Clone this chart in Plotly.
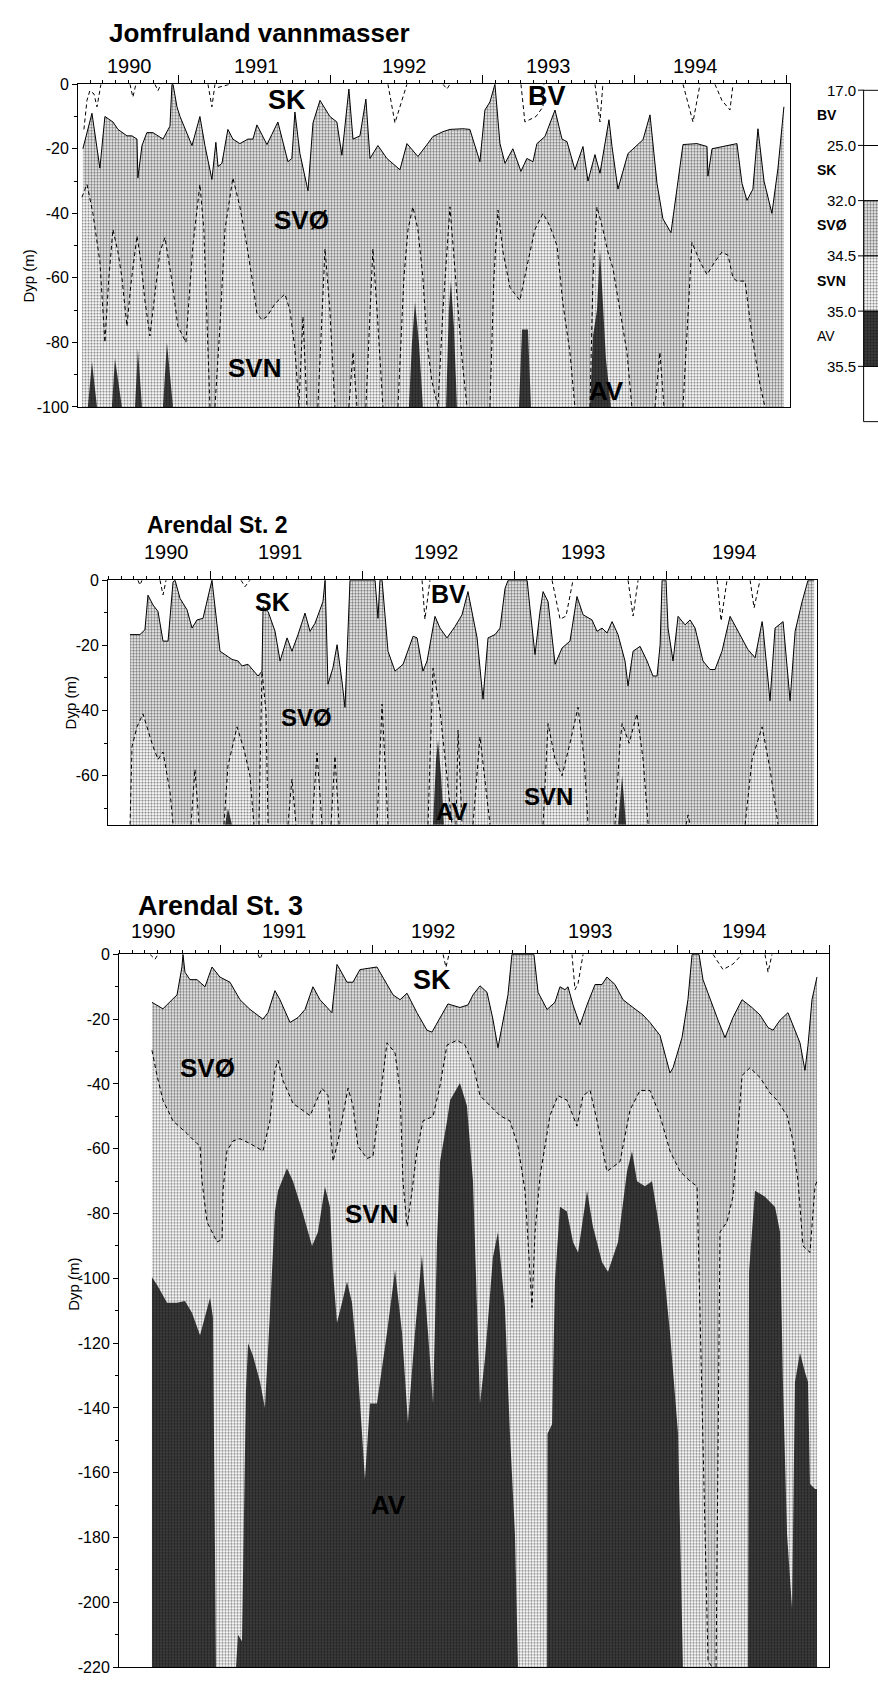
import plotly.graph_objects as go

FONT = "Arial, 'Liberation Sans', Helvetica, sans-serif"
W, H = 878, 1688

# ---------------- Jomfruland (depth of isohalines, m) ----------------
jf_sk = [(1989.868,-20),(1989.928,-9),(1989.980,-26),(1990.013,-10),(1990.066,-11.7),(1990.099,-14),
 (1990.158,-16),(1990.191,-16),(1990.224,-17),(1990.230,-29),(1990.257,-19),(1990.289,-15),(1990.329,-15),
 (1990.395,-17),(1990.441,-13),(1990.454,0),(1990.461,0),(1990.487,-7),(1990.507,-10),(1990.553,-15),
 (1990.586,-19),(1990.638,-10),(1990.671,-19),(1990.717,-29.5),(1990.743,-18),(1990.757,-25.5),(1990.783,-24.5),
 (1990.822,-14),(1990.855,-17),(1990.901,-18.4),(1990.954,-17),(1990.987,-17),(1991.013,-12.6),(1991.079,-18.7),
 (1991.151,-11.7),(1991.217,-24),(1991.243,-23),(1991.263,-8.6),(1991.296,-21.5),(1991.349,-33),(1991.382,-12),
 (1991.428,-5),(1991.493,-10),(1991.539,-11.7),(1991.572,-22),(1991.618,-1.5),(1991.645,-17),(1991.691,-16),
 (1991.730,-4.6),(1991.757,-23),(1991.809,-19),(1991.868,-23),(1991.908,-24.5),(1991.954,-26.5),(1992.000,-18.4),
 (1992.072,-22.4),(1992.132,-18.7),(1992.171,-16.2),(1992.237,-14.7),(1992.283,-14),(1992.368,-13.8),(1992.414,-14),
 (1992.480,-24),(1992.513,-8),(1992.546,-5.5),(1992.579,0),(1992.612,-18.4),(1992.645,-24.5),(1992.697,-20),
 (1992.750,-27),(1992.789,-23),(1992.829,-24),(1992.855,-18.4),(1992.908,-16.2),(1992.974,-8),(1993.020,-17),
 (1993.053,-17.8),(1993.105,-26.5),(1993.158,-19.3),(1993.191,-30),(1993.237,-21.8),(1993.270,-27.6),(1993.329,-11),
 (1993.349,-19.3),(1993.388,-32.5),(1993.454,-21.5),(1993.553,-17.2),(1993.599,-9.5),(1993.645,-30.7),(1993.684,-41.7),
 (1993.737,-46),(1993.816,-18.7),(1993.908,-18.4),(1993.974,-19.3),(1993.980,-28.5),(1994.007,-20),(1994.079,-19.3),
 (1994.171,-18.4),(1994.204,-30.7),(1994.237,-36),(1994.276,-32.5),(1994.309,-13.8),(1994.349,-30),(1994.401,-40),
 (1994.441,-26),(1994.480,-7)]
jf_svn = [(1989.862,-35),(1989.895,-31),(1989.934,-40),(1989.980,-55),(1990.013,-80),(1990.039,-60),(1990.066,-45),
 (1990.099,-52),(1990.125,-60),(1990.158,-75),(1990.184,-62),(1990.224,-47),(1990.250,-55),(1990.276,-67),(1990.309,-78),
 (1990.342,-65),(1990.375,-52),(1990.408,-47.5),(1990.434,-55),(1990.454,-61),(1990.493,-75),(1990.546,-80),(1990.592,-50),
 (1990.638,-31),(1990.664,-45),(1990.704,-100),(1990.737,-100),(1990.770,-75),(1990.803,-45),(1990.855,-29),(1990.901,-38),
 (1990.947,-50),(1990.987,-62),(1991.013,-71),(1991.046,-73),(1991.079,-72),(1991.132,-68),(1991.197,-65),(1991.230,-70),
 (1991.263,-82),(1991.289,-100),(1991.316,-72),(1991.342,-100),(1991.414,-100),(1991.441,-70),(1991.461,-51),(1991.493,-70),
 (1991.526,-100),(1991.618,-100),(1991.645,-83),(1991.671,-100),(1991.730,-100),(1991.757,-70),(1991.776,-51),(1991.803,-70),
 (1991.842,-100),(1991.941,-100),(1991.980,-60),(1992.007,-45),(1992.039,-38),(1992.072,-45),(1992.105,-60),(1992.132,-80),
 (1992.164,-92),(1992.204,-100),(1992.237,-70),(1992.283,-38),(1992.322,-60),(1992.362,-85),(1992.395,-100),(1992.546,-100),
 (1992.572,-60),(1992.599,-39),(1992.632,-52),(1992.678,-63),(1992.743,-67),(1992.796,-55),(1992.842,-45),(1992.895,-40),
 (1992.941,-44),(1992.987,-50),(1993.026,-68),(1993.072,-83),(1993.105,-100),(1993.204,-100),(1993.224,-60),(1993.250,-38),
 (1993.289,-45),(1993.322,-52),(1993.355,-57),(1993.401,-70),(1993.447,-83),(1993.480,-100),(1993.632,-100),(1993.664,-83),
 (1993.691,-100),(1993.816,-100),(1993.849,-70),(1993.875,-49),(1993.928,-55),(1993.974,-59),(1994.026,-55),(1994.072,-52),
 (1994.112,-53),(1994.145,-60),(1994.171,-61),(1994.224,-61),(1994.270,-78),(1994.322,-93),(1994.355,-100),(1994.480,-100)]
jf_av = [(1989.849,-100),(1989.901,-100),(1989.928,-86),(1989.961,-100),(1990.059,-100),(1990.079,-85),(1990.125,-100),
 (1990.211,-100),(1990.230,-82),(1990.257,-100),(1990.395,-100),(1990.421,-80),(1990.461,-100),(1992.013,-100),
 (1992.033,-80),(1992.053,-67.5),(1992.079,-80),(1992.105,-100),(1992.257,-100),(1992.276,-70),(1992.289,-61),
 (1992.309,-75),(1992.329,-100),(1992.737,-100),(1992.757,-76),(1992.796,-76),(1992.816,-100),(1993.204,-100),
 (1993.224,-78),(1993.250,-70),(1993.270,-51),(1993.283,-62),(1993.309,-85),(1993.342,-100),(1994.480,-100)]
jf_bv = [[(1989.875,-14),(1989.895,-5),(1989.914,-2),(1989.941,-3),(1989.961,-7),(1989.974,-4),(1989.987,0)],
 [(1990.178,0),(1990.197,-4),(1990.217,0)],
 [(1990.342,0),(1990.362,-2),(1990.382,0)],
 [(1990.691,0),(1990.717,-7),(1990.737,0)],
 [(1990.757,-1),(1990.836,0)],
 [(1991.875,0),(1991.921,-12),(1992.000,0)],
 [(1992.237,0),(1992.263,-1.5),(1992.283,0)],
 [(1992.750,0),(1992.776,-11.7),(1992.849,-10),(1992.895,-7),(1992.901,0)],
 [(1993.237,0),(1993.270,-11.7),(1993.289,0)],
 [(1993.816,0),(1993.882,-11.7),(1993.928,0)],
 [(1994.026,0),(1994.072,-5),(1994.125,-8),(1994.145,0)]]

# ---------------- Arendal St. 2 ----------------
ar2_sk = [(1989.974,-16.7),(1990.039,-16.7),(1990.072,-15.2),(1990.092,-4.6),(1990.125,-7.6),(1990.158,-9.6),
 (1990.191,-18.7),(1990.224,-18.7),(1990.257,-0.5),(1990.270,0),(1990.303,-5.6),(1990.349,-9.1),(1990.382,-14.7),
 (1990.414,-12.2),(1990.454,-11.7),(1990.500,-2),(1990.513,0),(1990.566,-21.8),(1990.645,-24.3),(1990.684,-24.8),
 (1990.711,-26.3),(1990.750,-25.8),(1990.816,-29.4),(1990.842,-27.9),(1990.849,-8.1),(1990.882,-9.6),(1990.928,-15.7),
 (1990.961,-24.8),(1991.007,-17.7),(1991.039,-21.8),(1991.079,-16.7),(1991.125,-10.1),(1991.158,-15.7),(1991.191,-13.2),
 (1991.243,-6.6),(1991.257,0),(1991.276,-31.9),(1991.309,-26.8),(1991.336,-19.8),(1991.368,-30.9),(1991.388,-39),
 (1991.421,0),(1991.586,0),(1991.605,-11.7),(1991.618,0),(1991.632,0),(1991.671,-21.8),(1991.717,-27.9),(1991.770,-25.8),
 (1991.836,-17.2),(1991.862,-17.7),(1991.901,-27.9),(1991.928,-24.8),(1991.980,-11.1),(1992.013,-14.7),(1992.059,-17.7),
 (1992.112,-14.2),(1992.158,-10.6),(1992.178,-6.6),(1992.197,-3.5),(1992.257,-17.7),(1992.296,-36.5),(1992.329,-17.7),
 (1992.375,-16.7),(1992.408,-14.7),(1992.441,-2.5),(1992.461,0),(1992.586,0),(1992.605,-8.6),(1992.638,-22.8),
 (1992.671,-9.6),(1992.691,-3.5),(1992.724,-6.6),(1992.770,-25.8),(1992.816,-20.8),(1992.868,-18.7),(1992.914,-5),
 (1992.954,-10.6),(1993.013,-12.2),(1993.046,-15.7),(1993.079,-14.7),(1993.112,-16.2),(1993.145,-12.7),(1993.184,-16.7),
 (1993.230,-24.8),(1993.250,-32.4),(1993.283,-21.8),(1993.329,-20.3),(1993.375,-24.8),(1993.414,-29.4),(1993.441,-29.4),
 (1993.461,-19.8),(1993.474,0),(1993.500,0),(1993.513,-14.7),(1993.546,-24.8),(1993.579,-11.1),(1993.625,-13.7),
 (1993.658,-12.2),(1993.691,-14.7),(1993.743,-24.8),(1993.789,-27.4),(1993.822,-27.4),(1993.868,-21.8),(1993.921,-11.1),
 (1993.987,-16.7),(1994.039,-21.3),(1994.086,-23.8),(1994.132,-12.7),(1994.138,-14.7),(1994.184,-37),(1994.217,-14.7),
 (1994.270,-12.7),(1994.316,-37),(1994.349,-15.7),(1994.395,-6.6),(1994.434,0),(1994.474,0)]
ar2_svn = [(1989.974,-75),(1989.987,-51),(1990.020,-45),(1990.059,-41),(1990.092,-46),(1990.125,-51),(1990.158,-55),
 (1990.191,-52.7),(1990.237,-65),(1990.257,-75),(1990.375,-75),(1990.401,-58),(1990.428,-75),(1990.592,-75),
 (1990.618,-57),(1990.678,-45),(1990.724,-52),(1990.763,-60),(1990.789,-75),(1990.822,-75),(1990.842,-28),
 (1990.868,-40),(1990.882,-75),(1991.013,-75),(1991.039,-61),(1991.066,-75),(1991.171,-75),(1991.204,-53),
 (1991.237,-75),(1991.296,-75),(1991.322,-54),(1991.349,-75),(1991.599,-75),(1991.632,-38),(1991.671,-75),
 (1991.934,-75),(1991.967,-27),(1992.013,-40),(1992.059,-60),(1992.092,-75),(1992.118,-75),(1992.132,-46),
 (1992.158,-75),(1992.230,-75),(1992.276,-48),(1992.342,-75),(1992.691,-75),(1992.724,-44),(1992.770,-55),
 (1992.816,-60),(1992.868,-50),(1992.921,-39),(1992.961,-55),(1992.987,-75),(1993.164,-75),(1993.197,-50),
 (1993.211,-44),(1993.257,-50),(1993.309,-41),(1993.349,-55),(1993.382,-75),(1993.632,-75),(1993.645,-72),
 (1993.658,-75),(1994.020,-75),(1994.066,-55),(1994.132,-45),(1994.184,-58),(1994.237,-75),(1994.474,-75)]
ar2_av = [(1989.974,-75),(1990.599,-75),(1990.618,-70),(1990.645,-75),(1991.967,-75),(1991.987,-55),(1992.000,-49),
 (1992.020,-60),(1992.039,-75),(1993.184,-75),(1993.211,-60),(1993.237,-75),(1994.474,-75)]
ar2_bv = [[(1990.026,0),(1990.039,-1.5),(1990.053,0)],
 [(1990.171,0),(1990.191,-4.5),(1990.211,0)],
 [(1990.704,0),(1990.730,-2),(1990.763,0)],
 [(1991.895,0),(1991.914,-12),(1991.947,0)],
 [(1992.750,0),(1992.803,-12),(1992.842,-11),(1992.888,0)],
 [(1993.250,0),(1993.283,-11),(1993.316,0)],
 [(1993.836,0),(1993.862,-12.5),(1993.901,0)],
 [(1994.053,0),(1994.079,-8.5),(1994.118,0)]]

# ---------------- Arendal St. 3 ----------------
ar3_sk = [(1990.046,-14.8),(1990.079,-15.6),(1990.118,-16.8),(1990.178,-14),(1990.211,-12.5),(1990.243,-3.9),
 (1990.250,0),(1990.263,-5.5),(1990.296,-7.8),(1990.342,-7.8),(1990.395,-10),(1990.441,-3.9),(1990.493,-7),
 (1990.559,-8.6),(1990.625,-14),(1990.691,-17),(1990.776,-20),(1990.809,-18),(1990.855,-11.2),(1990.888,-14),
 (1990.954,-21),(1991.007,-19.5),(1991.053,-17),(1991.105,-10),(1991.151,-14),(1991.230,-18),(1991.263,-3.1),
 (1991.283,-4.7),(1991.329,-8.6),(1991.368,-8.6),(1991.414,-4.7),(1991.526,-3.9),(1991.566,-7),(1991.632,-12.5),
 (1991.678,-14),(1991.724,-12),(1991.789,-18),(1991.855,-23.4),(1991.888,-24),(1991.941,-19.5),(1991.993,-15.3),
 (1992.072,-16.4),(1992.125,-15.6),(1992.158,-12.5),(1992.204,-9.7),(1992.250,-11.7),(1992.289,-20),(1992.322,-28.8),
 (1992.355,-20),(1992.388,-12.5),(1992.414,0),(1992.559,0),(1992.586,-11.7),(1992.645,-17),(1992.697,-14.8),
 (1992.730,-10),(1992.763,-10.9),(1992.783,-10),(1992.816,-15.6),(1992.862,-21.8),(1992.908,-15.6),(1992.961,-9.3),
 (1993.007,-9.3),(1993.039,-7),(1993.092,-9.3),(1993.145,-14),(1993.211,-16.4),(1993.276,-18.7),(1993.322,-21),
 (1993.388,-25),(1993.454,-36.6),(1993.474,-35),(1993.533,-25.7),(1993.572,-14),(1993.599,0),(1993.645,0),
 (1993.671,-7.8),(1993.730,-15.6),(1993.770,-20.3),(1993.816,-25.7),(1993.868,-19.5),(1993.928,-14),(1993.993,-16.4),
 (1994.046,-18.7),(1994.099,-22.6),(1994.132,-23.4),(1994.178,-20.3),(1994.230,-18),(1994.263,-21.8),(1994.309,-27.3),
 (1994.342,-35.8),(1994.362,-28),(1994.388,-14),(1994.421,-7)]
ar3_svn = [(1990.046,-29.6),(1990.079,-37.4),(1990.118,-45),(1990.184,-51.4),(1990.276,-55.3),(1990.342,-58.4),
 (1990.362,-59),(1990.375,-70),(1990.408,-82.6),(1990.474,-88.8),(1990.507,-88),(1990.513,-73),(1990.539,-60.7),
 (1990.579,-57.6),(1990.625,-56.9),(1990.691,-58.4),(1990.776,-60.7),(1990.822,-51.4),(1990.855,-35.8),(1990.875,-32.7),
 (1990.908,-39),(1990.974,-46),(1991.086,-49.8),(1991.164,-41.3),(1991.204,-43.6),(1991.237,-63.9),(1991.270,-57.6),
 (1991.303,-49.8),(1991.336,-41.3),(1991.368,-46.7),(1991.401,-59.2),(1991.461,-63),(1991.500,-62.3),(1991.546,-45),
 (1991.592,-27.3),(1991.645,-30.4),(1991.678,-42),(1991.697,-70),(1991.724,-84),(1991.757,-73),(1991.789,-60.7),
 (1991.829,-51.4),(1991.895,-50),(1991.941,-40.5),(1991.987,-28),(1992.053,-26.5),(1992.105,-28),(1992.158,-34),
 (1992.204,-43.6),(1992.270,-46.7),(1992.336,-49.8),(1992.401,-51.4),(1992.454,-59.2),(1992.500,-73),(1992.546,-109),
 (1992.566,-85.7),(1992.599,-68.5),(1992.664,-49.8),(1992.717,-43.6),(1992.776,-45),(1992.842,-53),(1992.882,-43.6),
 (1992.928,-42),(1992.974,-51.4),(1993.039,-67),(1993.125,-64),(1993.191,-48),(1993.257,-42),(1993.322,-42),
 (1993.388,-49.8),(1993.454,-60.7),(1993.520,-67),(1993.586,-70),(1993.632,-71.6),(1993.671,-148),(1993.704,-218),
 (1993.730,-220),(1993.757,-220),(1993.770,-150),(1993.783,-85.7),(1993.829,-82.6),(1993.868,-74.8),(1993.901,-54.5),
 (1993.928,-37.4),(1993.980,-35),(1994.046,-38),(1994.112,-42.8),(1994.158,-45),(1994.224,-49.8),(1994.263,-57.6),
 (1994.296,-70),(1994.329,-90),(1994.375,-92),(1994.408,-71.6),(1994.421,-70)]
ar3_av = [(1990.046,-99.7),(1990.079,-102),(1990.145,-107.5),(1990.211,-107.5),(1990.263,-107),(1990.309,-110.6),
 (1990.362,-117.6),(1990.395,-112),(1990.428,-106),(1990.447,-112),(1990.467,-220),(1990.599,-220),(1990.612,-210),
 (1990.638,-212),(1990.651,-170),(1990.664,-135),(1990.678,-120),(1990.711,-124),(1990.757,-132),(1990.789,-140),
 (1990.822,-110.6),(1990.855,-79.4),(1990.875,-73),(1990.934,-66),(1990.974,-70),(1991.033,-79),(1991.099,-90),
 (1991.138,-85.7),(1991.184,-71.7),(1991.217,-78),(1991.237,-98),(1991.263,-113.7),(1991.296,-107.5),(1991.329,-101),
 (1991.362,-107.5),(1991.395,-124.6),(1991.428,-148),(1991.447,-162),(1991.480,-138.6),(1991.526,-138.6),
 (1991.592,-116.8),(1991.645,-97.4),(1991.691,-116.8),(1991.730,-144.6),(1991.776,-116.8),(1991.822,-92.7),
 (1991.862,-116.8),(1991.895,-138.6),(1991.921,-88.8),(1991.941,-63.9),(1991.987,-51.4),(1992.007,-45),
 (1992.072,-39.7),(1992.118,-46.7),(1992.158,-70),(1992.204,-138.6),(1992.237,-124.6),(1992.289,-93.5),
 (1992.322,-85.7),(1992.368,-109),(1992.401,-148),(1992.434,-179),(1992.454,-220),(1992.645,-220),(1992.648,-148),
 (1992.678,-145),(1992.697,-101),(1992.730,-77.9),(1992.776,-79.4),(1992.816,-88.8),(1992.849,-92),(1992.908,-73),
 (1992.947,-84),(1993.007,-95),(1993.046,-98),(1993.112,-88.8),(1993.171,-67),(1993.204,-60.7),(1993.237,-70),
 (1993.289,-71.6),(1993.336,-70),(1993.388,-85.7),(1993.454,-116.8),(1993.507,-148),(1993.539,-220),(1993.967,-220),
 (1993.974,-98),(1994.013,-73),(1994.079,-74.8),(1994.145,-78),(1994.178,-85.7),(1994.197,-132),(1994.224,-179),
 (1994.257,-202),(1994.276,-132),(1994.309,-123),(1994.342,-129),(1994.362,-132),(1994.375,-163.5),(1994.408,-165),
 (1994.421,-165)]
ar3_bv = [[(1990.033,0),(1990.066,-1.5),(1990.086,0)],
 [(1990.743,0),(1990.757,-1.5),(1990.770,0)],
 [(1991.961,0),(1991.980,-4),(1992.000,0)],
 [(1992.809,0),(1992.829,-10.9),(1992.849,-9),(1992.882,0)],
 [(1993.737,0),(1993.803,-4.7),(1993.868,-3),(1993.928,0)],
 [(1994.079,0),(1994.099,-5.5),(1994.125,0)]]

year_labels = ["1990", "1991", "1992", "1993", "1994"]
jf_year_pos = [1990.178, 1991.007, 1991.987, 1992.928, 1993.895]
ar2_year_pos = [1990.211, 1990.961, 1991.987, 1992.954, 1993.947]
ar3_year_pos = [1990.053, 1990.921, 1991.900, 1992.928, 1993.947]
mid_year_ticks = [1990.5, 1991.5, 1992.5, 1993.5, 1994.5]

legend_bounds = ["17.0", "25.0", "32.0", "34.5", "35.0", "35.5"]
legend_names = ["BV", "SK", "SVØ", "SVN", "AV"]

# ---------------- styles ----------------
PAT_SVO = dict(shape=".", size=3, solidity=0.5, fgcolor="#000000", bgcolor="#ffffff")
PAT_SVN = dict(shape=".", size=3, solidity=0.42, fgcolor="#000000", bgcolor="#ffffff")
PAT_AV = dict(shape=".", size=3, solidity=0.5, fgcolor="#000000", bgcolor="#444444")

fig = go.Figure()


def px_x(p):
    return p / W


def px_y(p):
    return 1 - p / H


def add_poly(pts, bottom, pat, xa, ya):
    t = [p[0] for p in pts]
    d = [p[1] for p in pts]
    fig.add_trace(go.Scatter(x=t + [t[-1], t[0]], y=d + [bottom, bottom], mode="lines", fill="toself",
                             line=dict(width=0, color="rgba(0,0,0,0)"), fillcolor=pat["bgcolor"],
                             fillpattern=pat, xaxis=xa, yaxis=ya, hoverinfo="skip"))


def add_dashed(pts, bottom, xa, ya):
    xs, ys = [], []
    for i, (t, d) in enumerate(pts):
        if i > 0 and d <= bottom and pts[i - 1][1] <= bottom:
            xs.append(None)
            ys.append(None)
        xs.append(t)
        ys.append(d)
    fig.add_trace(go.Scatter(x=xs, y=ys, mode="lines", line=dict(color="black", width=1, dash="4px,3px"),
                             xaxis=xa, yaxis=ya, hoverinfo="skip", connectgaps=False))


def add_panel(idx, sk, svn, av, bv, bottom, xrng, xdom, ydom, ytickvals, years_pos, year_ypx,
              title, title_px, title_size, labels, dyp_px):
    xa = "x" if idx == 1 else f"x{idx}"
    ya = "y" if idx == 1 else f"y{idx}"
    add_poly(sk, bottom, PAT_SVO, xa, ya)
    add_poly(svn, bottom, PAT_SVN, xa, ya)
    add_poly(av, bottom, PAT_AV, xa, ya)
    add_dashed(svn, bottom, xa, ya)
    fig.add_trace(go.Scatter(x=[p[0] for p in sk], y=[p[1] for p in sk], mode="lines",
                             line=dict(color="black", width=1), xaxis=xa, yaxis=ya, hoverinfo="skip"))
    for seg in bv:
        fig.add_trace(go.Scatter(x=[p[0] for p in seg], y=[p[1] for p in seg], mode="lines",
                                 line=dict(color="black", width=1, dash="4px,3px"),
                                 xaxis=xa, yaxis=ya, hoverinfo="skip"))
    sfx = "" if idx == 1 else str(idx)
    fig.layout["xaxis" + sfx] = dict(
        domain=xdom, range=xrng, side="top", anchor=ya, showline=True, linecolor="black", linewidth=1,
        mirror=True, ticks="outside", tickvals=mid_year_ticks, ticklen=8, tickcolor="black",
        showticklabels=False, showgrid=False, zeroline=False,
        minor=dict(tickmode="linear", tick0=1990.0, dtick=1 / 12, ticks="outside", ticklen=3,
                   tickcolor="black", showgrid=False))
    fig.layout["yaxis" + sfx] = dict(
        domain=ydom, range=[bottom, 0], anchor=xa, showline=True, linecolor="black", linewidth=1,
        mirror=True, ticks="outside", ticklen=5, tickcolor="black", tickvals=ytickvals,
        ticktext=[str(v) for v in ytickvals], tickfont=dict(family=FONT, size=16, color="black"),
        showgrid=False, zeroline=False,
        minor=dict(tickmode="linear", tick0=0, dtick=10, ticks="outside", ticklen=3,
                   tickcolor="black", showgrid=False))
    for lab, pos in zip(year_labels, years_pos):
        fig.add_annotation(x=pos, y=px_y(year_ypx), xref=xa, yref="paper", text=lab, showarrow=False,
                           font=dict(family=FONT, size=20, color="black"), xanchor="center", yanchor="middle")
    fig.add_annotation(x=px_x(title_px[0]), y=px_y(title_px[1]), xref="paper", yref="paper",
                       text="<b>" + title + "</b>", showarrow=False, xanchor="left", yanchor="middle",
                       font=dict(family=FONT, size=title_size, color="black"))
    for txt, t, d, sz in labels:
        fig.add_annotation(x=t, y=d, xref=xa, yref=ya, text="<b>" + txt + "</b>", showarrow=False,
                           font=dict(family=FONT, size=sz, color="black"))
    fig.add_annotation(x=px_x(dyp_px[0]), y=px_y(dyp_px[1]), xref="paper", yref="paper", text="Dyp (m)",
                       showarrow=False, textangle=-90, font=dict(family=FONT, size=15, color="black"))


add_panel(1, jf_sk, jf_svn, jf_av, jf_bv, -100, [1989.836, 1994.520],
          [78 / W, 790 / W], [px_y(403), px_y(77)], [0, -20, -40, -60, -80, -100],
          jf_year_pos, 59, "Jomfruland vannmasser", (107, 25), 26,
          [("SK", 1991.211, -5, 27), ("BV", 1992.921, -3.5, 27), ("SVØ", 1991.309, -42, 26),
           ("SVN", 1991.0, -88, 26), ("AV", 1993.316, -95, 26)], (18, 242))
add_panel(2, ar2_sk, ar2_svn, ar2_av, ar2_bv, -75, [1989.829, 1994.493],
          [108 / W, 817 / W], [px_y(825), px_y(578)], [0, -20, -40, -60],
          ar2_year_pos, 550, "Arendal St. 2", (145, 522), 23,
          [("SK", 1990.908, -6.7, 25), ("BV", 1992.066, -4.3, 25), ("SVØ", 1991.138, -42, 24),
           ("SVN", 1992.724, -66.5, 24), ("AV", 1992.092, -71, 24)], (60, 702))
add_panel(3, ar3_sk, ar3_svn, ar3_av, ar3_bv, -220, [1989.829, 1994.500],
          [119 / W, 829 / W], [px_y(1676), px_y(956)], list(range(0, -221, -20)),
          ar3_year_pos, 932, "Arendal St. 3", (136, 907), 27,
          [("SK", 1991.888, -7.8, 27), ("SVØ", 1990.414, -35, 26), ("SVN", 1991.493, -80, 26),
           ("AV", 1991.599, -170, 26)], (63, 1318))

# ---------------- legend (salinity key) ----------------
leg_styles = [None, None, PAT_SVO, PAT_SVN, PAT_AV, None]
for i, pat in enumerate(leg_styles):
    kw = dict(fillcolor="white") if pat is None else dict(fillcolor=pat["bgcolor"], fillpattern=pat)
    fig.add_trace(go.Scatter(x=[0, 1, 1, 0, 0], y=[i, i, i + 1, i + 1, i], mode="lines", fill="toself",
                             line=dict(color="black", width=1), xaxis="x4", yaxis="y4", hoverinfo="skip",
                             **kw))
fig.layout["xaxis4"] = dict(domain=[863 / W, 1.0], range=[-0.03, 0.7], visible=False, anchor="y4")
fig.layout["yaxis4"] = dict(domain=[px_y(419), px_y(82)], range=[6.02, -0.02], visible=False, anchor="x4")
leg_top, leg_step = 83, 55.8
for i, lab in enumerate(legend_bounds):
    yp = leg_top + i * leg_step
    fig.add_annotation(x=px_x(858), y=px_y(yp), xref="paper", yref="paper", text=lab, showarrow=False,
                       xanchor="right", yanchor="middle", font=dict(family=FONT, size=15, color="black"))
    fig.add_shape(type="line", x0=px_x(858), x1=px_x(864), y0=px_y(yp), y1=px_y(yp), xref="paper",
                  yref="paper", line=dict(color="black", width=1))
for i, lab in enumerate(legend_names):
    yp = leg_top + (i + 0.45) * leg_step
    txt = lab if lab == "AV" else "<b>" + lab + "</b>"
    fig.add_annotation(x=px_x(815), y=px_y(yp), xref="paper", yref="paper", text=txt, showarrow=False,
                       xanchor="left", yanchor="middle", font=dict(family=FONT, size=14, color="black"))

fig.update_layout(width=W, height=H, margin=dict(l=0, r=0, t=0, b=0), showlegend=False,
                  plot_bgcolor="white", paper_bgcolor="white")
fig.write_html("out.html", config={"displayModeBar": False},
               post_script="document.body.style.margin='0';document.body.style.overflow='hidden';")
